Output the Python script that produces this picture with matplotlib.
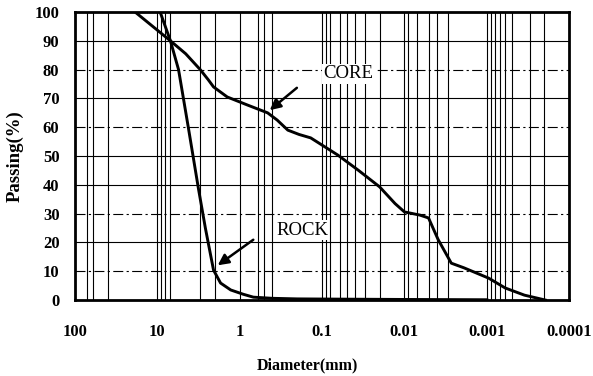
import matplotlib
matplotlib.use("Agg")
import matplotlib.pyplot as plt
from matplotlib.ticker import NullFormatter

# Data
core_d = [18.5, 6.9, 4.5, 3.0, 2.4, 2.07, 1.41, 0.8, 0.457, 0.35, 0.26, 0.19, 0.137, 0.064,
          0.036, 0.020, 0.013, 0.010, 0.0065, 0.0051, 0.0039, 0.0027, 0.0019, 0.00095,
          0.0006, 0.00035, 0.000195]
core_p = [100, 90, 85.5, 80, 76.5, 74, 70.5, 67.7, 65, 62.5, 59, 57.5, 56.3, 50.3,
          45, 39.3, 33.5, 30.6, 29.5, 28.5, 21, 12.8, 11.2, 7.6,
          4.2, 1.7, 0]
rock_d = [9.2, 6.9, 5.5, 4.19, 3.16, 2.6, 2.07, 1.7, 1.28, 0.9, 0.68, 0.4, 0.2, 0.05, 0.01, 0.001]
rock_p = [100, 90, 80, 60, 38.8, 25, 10.4, 5.9, 3.5, 2.0, 1.0, 0.6, 0.4, 0.3, 0.2, 0.1]

x_ticks = [100, 10, 1, 0.1, 0.01, 0.001, 0.0001]
x_tick_labels = ["100", "10", "1", "0.1", "0.01", "0.001", "0.0001"]
y_ticks = [0, 10, 20, 30, 40, 50, 60, 70, 80, 90, 100]
# vertical grid lines visible in the reference
v_grid = [70, 60, 40, 10, 9, 8, 7, 3, 2, 1, 0.6, 0.5, 0.4,
          0.1, 0.09, 0.08, 0.06, 0.05, 0.04, 0.03, 0.02,
          0.01, 0.009, 0.007, 0.005, 0.004, 0.003,
          0.001, 0.0009, 0.0008, 0.0007, 0.0006, 0.0005, 0.0003, 0.0002]
dashed_levels = [10, 30, 60, 80]

plt.rcParams['font.family'] = ['Liberation Serif', 'DejaVu Serif']

fig = plt.figure(figsize=(5.93, 3.76), dpi=100)
ax = fig.add_axes([0.126, 0.202, 0.834, 0.766])

ax.set_xscale('log')
ax.set_xlim(100, 0.0001)
ax.set_ylim(0, 100)

ax.set_xticks(x_ticks)
ax.set_xticklabels(x_tick_labels)
ax.xaxis.set_minor_formatter(NullFormatter())
ax.set_xticks([], minor=True)
ax.set_yticks(y_ticks)

for v in v_grid:
    ax.axvline(v, color='black', lw=0.8, zorder=1)
for v in y_ticks[1:-1]:
    ls = (0, (9, 3, 2, 3)) if v in dashed_levels else '-'
    ax.axhline(v, color='black', lw=0.8, ls=ls, zorder=1)

ax.plot(core_d, core_p, color='black', lw=2.1, zorder=3, solid_joinstyle='round')
ax.plot(rock_d, rock_p, color='black', lw=2.1, zorder=3, solid_joinstyle='round')

# annotations
ax.annotate("", xy=(0.457, 65.3), xytext=(0.19, 74.3),
            arrowprops=dict(arrowstyle='-|>', color='black', lw=1.8, mutation_scale=16))
ax.text(0.048, 78.5, "CORE", ha='center', va='center', fontsize=13.5, zorder=4,
        bbox=dict(facecolor='white', edgecolor='none', pad=1))
ax.annotate("", xy=(1.96, 11.5), xytext=(0.64, 21.5),
            arrowprops=dict(arrowstyle='-|>', color='black', lw=1.8, mutation_scale=16))
ax.text(0.175, 24.3, "ROCK", ha='center', va='center', fontsize=13.5, zorder=4,
        bbox=dict(facecolor='white', edgecolor='none', pad=1))

for s in ax.spines.values():
    s.set_linewidth(2)
    s.set_zorder(5)

ax.tick_params(axis='both', which='both', length=0, labelsize=12)
ax.tick_params(axis='y', pad=11)
ax.tick_params(axis='x', pad=17)
for lbl in ax.get_xticklabels() + ax.get_yticklabels():
    lbl.set_fontweight('bold')

ax.set_xlabel("Diameter(mm)", fontsize=11.5, fontweight='bold', labelpad=6)
ax.xaxis.set_label_coords(0.47, -0.2)
ax.set_ylabel("Passing(%)", fontsize=13.5, fontweight='bold', labelpad=8)

fig.savefig("out.png", dpi=100)
